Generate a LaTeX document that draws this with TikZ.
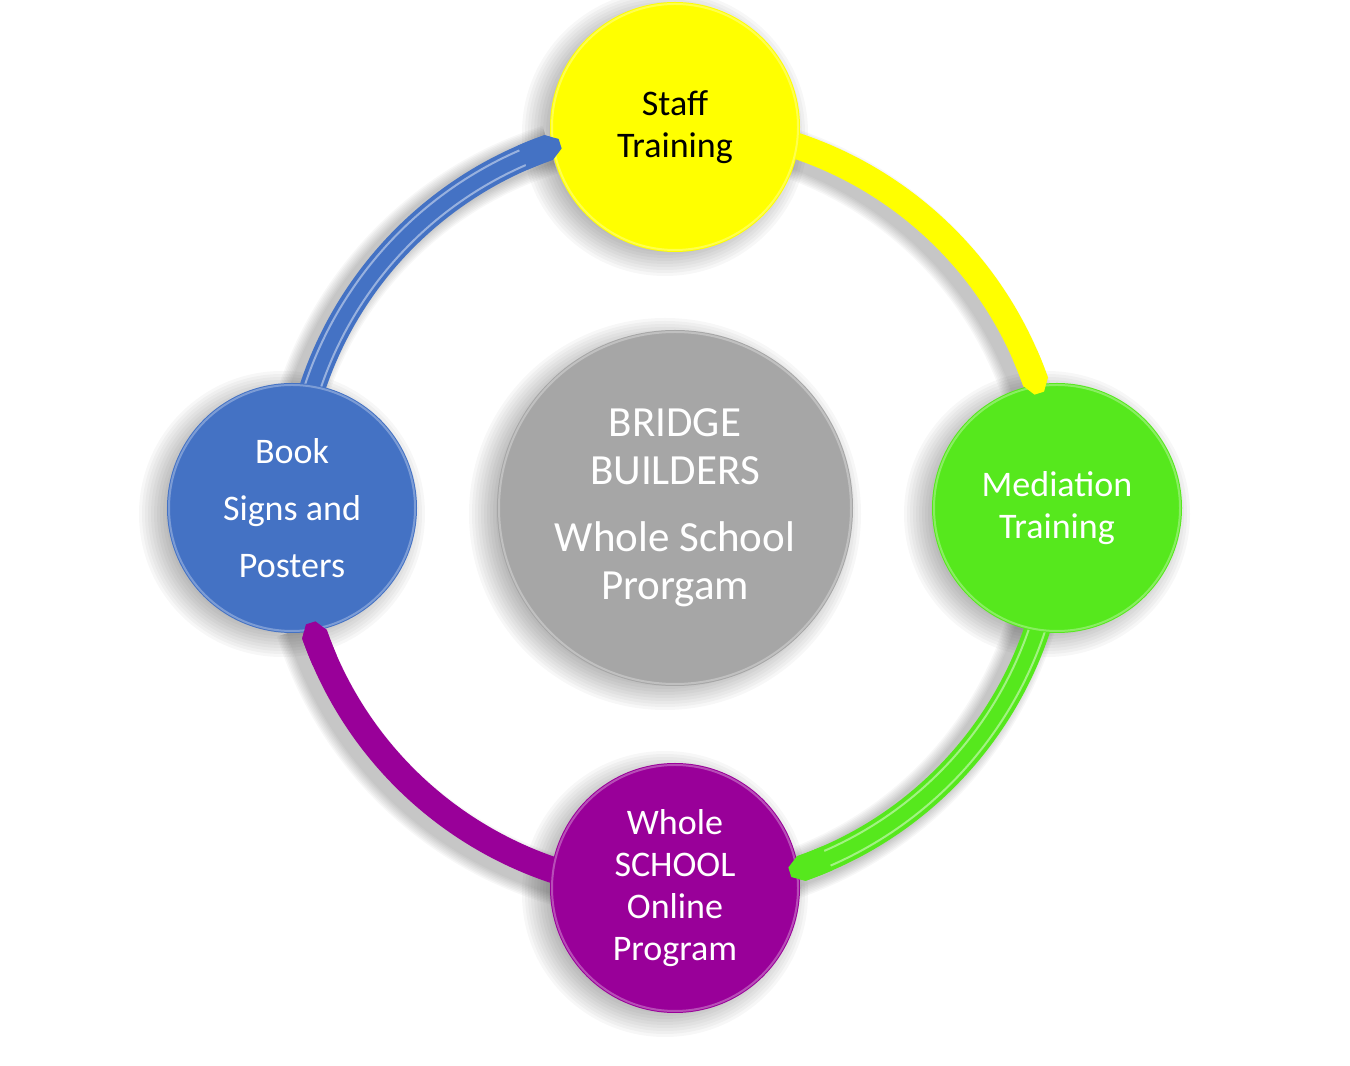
\documentclass[tikz,border=0pt]{standalone}
\usepackage{fontspec}
\setmainfont{Carlito}
\definecolor{cyel}{HTML}{FFFF00}
\definecolor{cgrn}{HTML}{56E81D}
\definecolor{cpur}{HTML}{990099}
\definecolor{cblu}{HTML}{4472C4}
\definecolor{cgry}{HTML}{A6A6A6}
\pgfdeclarelayer{shd}
\pgfdeclarelayer{bg}
\pgfdeclarelayer{fg}
\pgfsetlayers{shd,bg,main,fg}
\newcommand\bandshape[2]{(#1:395pt) arc[start angle=#1, end angle=#2+1.8, radius=395pt] -- (#2:387pt) -- (#2:377pt) -- (#2+1.8:369pt) arc[start angle=#2+1.8, end angle=#1, radius=369pt] -- cycle}
\begin{document}
\begin{tikzpicture}[x=1pt,y=1pt,
  bubble/.style={circle, minimum size=250pt, inner sep=0pt, align=center,
    font=\fontsize{36}{42}\selectfont, text=white},
  hubstyle/.style={circle, minimum size=356pt, inner sep=0pt, align=center,
    fill=cgry, font=\fontsize{43}{48}\selectfont, text=white},
  rim/.style={draw=white, draw opacity=0.3, line width=2pt}
  ]
\useasboundingbox (0,0) rectangle (1350,1066);

% nodes
\node[hubstyle] (hub) at (675,558) {BRIDGE\\BUILDERS\\[19pt]Whole School\\Prorgam};
\node[bubble, fill=cyel, text=black] (staff) at (675,939) {Staff\\Training};
\node[bubble, fill=cgrn] (med) at (1057,558) {Mediation\\Training};
\node[bubble, fill=cpur] (whole) at (675,178) {Whole\\SCHOOL\\Online\\Program};
\node[bubble, fill=cblu, font=\fontsize{36}{57}\selectfont] (book) at (292,558) {Book\\Signs and\\Posters};

% shadows
\begin{pgfonlayer}{shd}
\foreach \p/\rad in {staff/125, med/125, whole/125, book/125, hub/178} {
  \foreach \k in {0,...,9} {
    \pgfmathsetmacro\rr{\rad+18-3*\k}
    \fill[black, opacity=0.03] ([xshift=-10pt,yshift=-6pt]\p.center) circle[radius=\rr pt];
  }
}
\begin{scope}[shift={(hub.center)}, xshift=-10pt, yshift=-6pt]
\foreach \a/\e in {180/107.5, 90/17.5, 0/-72.5, -90/-162.5} {
  \foreach \k in {0,...,7} {
    \pgfmathsetmacro\lw{50-3*\k}
    \draw[black, opacity=0.03, line width=\lw pt] (\a:382pt) arc[start angle=\a, end angle=\e, radius=382pt];
  }
}
\end{scope}
\end{pgfonlayer}

% connecting bands
\begin{pgfonlayer}{bg}
\begin{scope}[shift={(hub.center)}]
\foreach \a/\e/\c in {180/107.5/cblu, 90/17.5/cyel, 0/-72.5/cgrn, -90/-162.5/cpur} {
  \fill[\c] \bandshape{\a}{\e};
}
\foreach \a/\e in {180/107.5, 0/-72.5} {
  \draw[white, opacity=0.45, line width=2pt] (\a:390pt) arc[start angle=\a, end angle=\e+2.8, radius=390pt];
  \draw[white, opacity=0.45, line width=2pt] (\a:374pt) arc[start angle=\a, end angle=\e+2.8, radius=374pt];
}
\end{scope}
\end{pgfonlayer}

% rims and band tips over the target circles
\begin{pgfonlayer}{fg}
\foreach \p/\rad in {staff/123, med/123, whole/123, book/123, hub/176} {
  \draw[rim] (\p.center) circle[radius=\rad pt];
}
\begin{scope}[shift={(hub.center)}]
\foreach \e/\c in {107.5/cblu, 17.5/cyel, -72.5/cgrn, -162.5/cpur} {
  \fill[\c] \bandshape{\e+6}{\e};
}
\end{scope}
\end{pgfonlayer}
\end{tikzpicture}
\end{document}
